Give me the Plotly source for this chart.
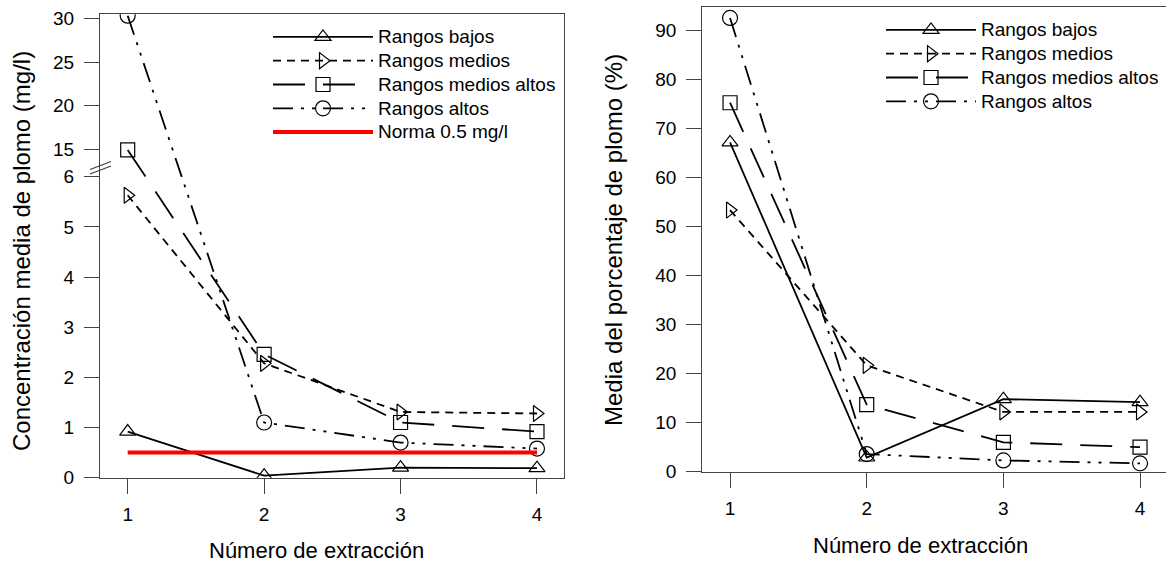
import plotly.graph_objects as go

# ---------------- data ----------------
extraccion = [1, 2, 3, 4]
series_names = ["Rangos bajos", "Rangos medios", "Rangos medios altos", "Rangos altos"]

# left panel: mean lead concentration (mg/l)
conc_bajos = [0.92, 0.04, 0.20, 0.19]
conc_medios = [5.63, 2.28, 1.31, 1.28]
conc_medios_altos = [14.95, 2.46, 1.10, 0.92]
conc_altos = [30.3, 1.10, 0.70, 0.58]
norma_valor = 0.5
norma_nombre = "Norma 0.5 mg/l"

# right panel: mean lead percentage (%)
pct_bajos = [67.2, 2.9, 14.8, 14.2]
pct_medios = [53.4, 21.7, 12.2, 12.2]
pct_medios_altos = [75.3, 13.7, 6.0, 5.0]
pct_altos = [92.6, 3.6, 2.3, 1.7]

left_tick_values = [0, 1, 2, 3, 4, 5, 6, 15, 20, 25, 30]
right_tick_values = [0, 10, 20, 30, 40, 50, 60, 70, 80, 90]
x_tick_values = [1, 2, 3, 4]

# ---------------- broken axis scale (left) ----------------
LOW_MAX = 6
HIGH_MIN = 15
HIGH_START = 6.542
HIGH_FACTOR = 0.1743


def brk(v):
    return v if v <= LOW_MAX else HIGH_START + (v - HIGH_MIN) * HIGH_FACTOR


W, H = 1166, 566


def px(x):
    return x / W


def py(y):
    return 1 - y / H


styles = [
    dict(symbol="triangle-up-open", dash="solid", size=14),
    dict(symbol="triangle-right-open", dash="8px,6px", size=14),
    dict(symbol="square-open", dash="32px,18px", size=14),
    dict(symbol="circle-open", dash="20px,8px,3px,8px,3px,8px", size=15),
]

FONT = "Liberation Sans, Arial, sans-serif"
LEG_TXT = "<span style='font-size:19px'>{}</span>"
fig = go.Figure()

left_series = [conc_bajos, conc_medios, conc_medios_altos, conc_altos]
right_series = [pct_bajos, pct_medios, pct_medios_altos, pct_altos]

for name, vals, st in zip(series_names, left_series, styles):
    fig.add_trace(go.Scatter(
        x=extraccion, y=[brk(v) for v in vals], customdata=vals,
        mode="lines+markers", name=LEG_TXT.format(name), legend="legend",
        line=dict(color="black", width=1.8, dash=st["dash"]),
        marker=dict(symbol=st["symbol"], size=st["size"], color="black",
                    line=dict(color="black", width=1.2)),
        xaxis="x", yaxis="y",
    ))

fig.add_trace(go.Scatter(
    x=[extraccion[0], extraccion[-1]], y=[brk(norma_valor)] * 2,
    mode="lines", name=LEG_TXT.format(norma_nombre), legend="legend",
    line=dict(color="#ff0000", width=4), xaxis="x", yaxis="y",
))

for name, vals, st in zip(series_names, right_series, styles):
    fig.add_trace(go.Scatter(
        x=extraccion, y=vals,
        mode="lines+markers", name=LEG_TXT.format(name), legend="legend2",
        line=dict(color="black", width=1.8, dash=st["dash"]),
        marker=dict(symbol=st["symbol"], size=st["size"], color="black",
                    line=dict(color="black", width=1.2)),
        xaxis="x2", yaxis="y2",
    ))

axis_common = dict(showgrid=False, zeroline=False, showline=True,
                   linecolor="#444", linewidth=1.3, ticks="outside",
                   ticklen=15, tickcolor="#444", tickwidth=1.3,
                   automargin=False,
                   tickfont=dict(family=FONT, size=19, color="black"))

fig.update_layout(
    width=W, height=H, autosize=False,
    margin=dict(l=0, r=0, t=0, b=0, pad=0, autoexpand=False),
    plot_bgcolor="white", paper_bgcolor="white",
    font=dict(family=FONT, size=18, color="black"),
    xaxis=dict(domain=[px(100), px(564)], range=[0.797, 4.198],
               tickvals=x_tick_values, anchor="y", mirror=True,
               ticklabelstandoff=4, **axis_common),
    yaxis=dict(domain=[py(477.7), py(14.3)], range=[0, 9.237],
               tickvals=[brk(v) for v in left_tick_values],
               ticktext=[str(v) for v in left_tick_values],
               anchor="x", mirror=True, ticklabelstandoff=6, **axis_common),
    xaxis2=dict(domain=[px(702.3), 1.0], range=[0.797, 4.19],
                tickvals=x_tick_values, anchor="y2", mirror=True,
                ticklabelstandoff=4, **axis_common),
    yaxis2=dict(domain=[py(471.7), py(6.7)], range=[0, 94.9],
                tickvals=right_tick_values, anchor="x2", mirror=False,
                ticklabelstandoff=6, **axis_common),
    legend=dict(x=px(268), y=py(20), xanchor="left", yanchor="top",
                bgcolor="rgba(0,0,0,0)", borderwidth=0, itemwidth=100,
                font=dict(family=FONT, size=16, color="black"),
                tracegroupgap=0),
    legend2=dict(x=px(881), y=py(13), xanchor="left", yanchor="top",
                 bgcolor="rgba(0,0,0,0)", borderwidth=0, itemwidth=90,
                 font=dict(family=FONT, size=16, color="black"),
                 tracegroupgap=0),
    annotations=[
        dict(text="Concentración media de plomo (mg/l)", x=px(21), y=py(251),
             xref="paper", yref="paper", showarrow=False, textangle=-90,
             xanchor="center", yanchor="middle",
             font=dict(family=FONT, size=24, color="black")),
        dict(text="Media del porcentaje de plomo (%)", x=px(613), y=py(240),
             xref="paper", yref="paper", showarrow=False, textangle=-90,
             xanchor="center", yanchor="middle",
             font=dict(family=FONT, size=24, color="black")),
        dict(text="Número de extracción", x=px(316), y=py(550),
             xref="paper", yref="paper", showarrow=False,
             xanchor="center", yanchor="middle",
             font=dict(family=FONT, size=22, color="black")),
        dict(text="Número de extracción", x=px(920), y=py(545),
             xref="paper", yref="paper", showarrow=False,
             xanchor="center", yanchor="middle",
             font=dict(family=FONT, size=22, color="black")),
    ],
    shapes=[
        dict(type="line", xref="paper", yref="paper",
             x0=px(90), y0=py(174), x1=px(111), y1=py(166),
             line=dict(color="#444", width=1.3)),
        dict(type="line", xref="paper", yref="paper",
             x0=px(90), y0=py(169.5), x1=px(111), y1=py(161.5),
             line=dict(color="#444", width=1.3)),
    ],
)

PAGE_FIX = (
    "document.documentElement.style.margin='0';"
    "document.documentElement.style.overflow='hidden';"
    "document.body.style.margin='0';"
    "document.body.style.overflow='hidden';"
)

fig.write_html("out.html", post_script=PAGE_FIX,
               config={"displayModeBar": False})
